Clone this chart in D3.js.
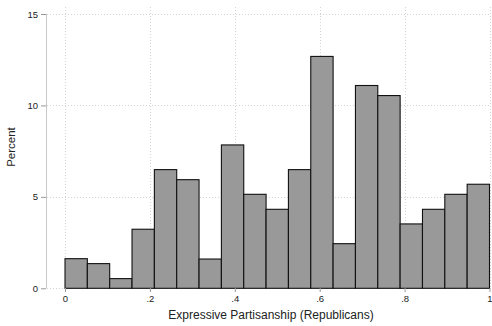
<!DOCTYPE html>
<html>
<head>
<meta charset="utf-8">
<script src="https://cdn.jsdelivr.net/npm/d3@7"></script>
<style>
  body { margin: 0; background: #fff; }
  text { font-family: "Liberation Sans", Arial, sans-serif; fill: #222; }
</style>
</head>
<body>
<svg id="chart" width="492" height="326"></svg>
<script>
const width  = 492;
const height = 326;

// 19 equal bins over [0, 1], percent of observations
const binCount = 19;
const percents = [1.62, 1.35, 0.53, 3.23, 6.49, 5.94, 1.6, 7.84, 5.14, 4.32,
                  6.49, 12.68, 2.44, 11.09, 10.54, 3.52, 4.32, 5.14, 5.69];
const xTicks = [0, 0.2, 0.4, 0.6, 0.8, 1];
const xTickLabels = ["0", ".2", ".4", ".6", ".8", "1"];
const yTicks = [0, 5, 10, 15];

const bins = percents.map((p, i) => ({x0: i / binCount, x1: (i + 1) / binCount, value: p}));

const svg = d3.select("#chart");

const x = d3.scaleLinear().domain([0, 1]).range([65, 489.5]);
const y = d3.scaleLinear().domain([0, 15]).range([288.3, 14]);

// grid
const grid = svg.append("g")
	.attr("stroke", "#d4d4d4")
	.attr("stroke-width", 1)
	.attr("stroke-dasharray", "1,2");

grid.selectAll(".hg")
	.data(yTicks)
	.join("line")
		.attr("x1", 47).attr("x2", 489.5)
		.attr("y1", d => Math.round(y(d)) + 0.5)
		.attr("y2", d => Math.round(y(d)) + 0.5);

grid.selectAll(".vg")
	.data(xTicks)
	.join("line")
		.attr("x1", d => Math.round(x(d)) + 0.5)
		.attr("x2", d => Math.round(x(d)) + 0.5)
		.attr("y1", 7).attr("y2", 288);

// bars
svg.append("g")
	.selectAll("rect")
	.data(bins)
	.join("rect")
		.attr("x", d => x(d.x0))
		.attr("y", d => y(d.value))
		.attr("width", d => x(d.x1) - x(d.x0))
		.attr("height", d => y(0) - y(d.value))
		.attr("fill", "#999999")
		.attr("stroke", "#111")
		.attr("stroke-width", 1.1);

// y axis
const yAxis = svg.append("g")
	.attr("transform", "translate(46,0)")
	.call(d3.axisLeft(y).tickValues(yTicks).tickSize(5).tickPadding(3).tickSizeOuter(0));
yAxis.select(".domain").attr("stroke", "#c8c8c8").attr("d", "M0.5," + y(15) + "V" + y(0));
yAxis.selectAll(".tick line").attr("stroke", "#999");
yAxis.selectAll(".tick text").attr("font-size", 9.5).attr("fill", "#222");

// x axis
const xAxis = svg.append("g")
	.attr("transform", "translate(0,288)")
	.call(d3.axisBottom(x).tickValues(xTicks).tickFormat((d, i) => xTickLabels[i]).tickSize(4).tickPadding(3));
xAxis.select(".domain").remove();
xAxis.selectAll(".tick line").attr("stroke", "#999");
xAxis.selectAll(".tick text").attr("font-size", 9.5).attr("fill", "#222");

// titles
svg.append("text")
	.attr("x", 271)
	.attr("y", 318.5)
	.attr("text-anchor", "middle")
	.attr("font-size", 12)
	.text("Expressive Partisanship (Republicans)");

svg.append("text")
	.attr("transform", "translate(15,147) rotate(-90)")
	.attr("text-anchor", "middle")
	.attr("font-size", 11.5)
	.text("Percent");
</script>
</body>
</html>
